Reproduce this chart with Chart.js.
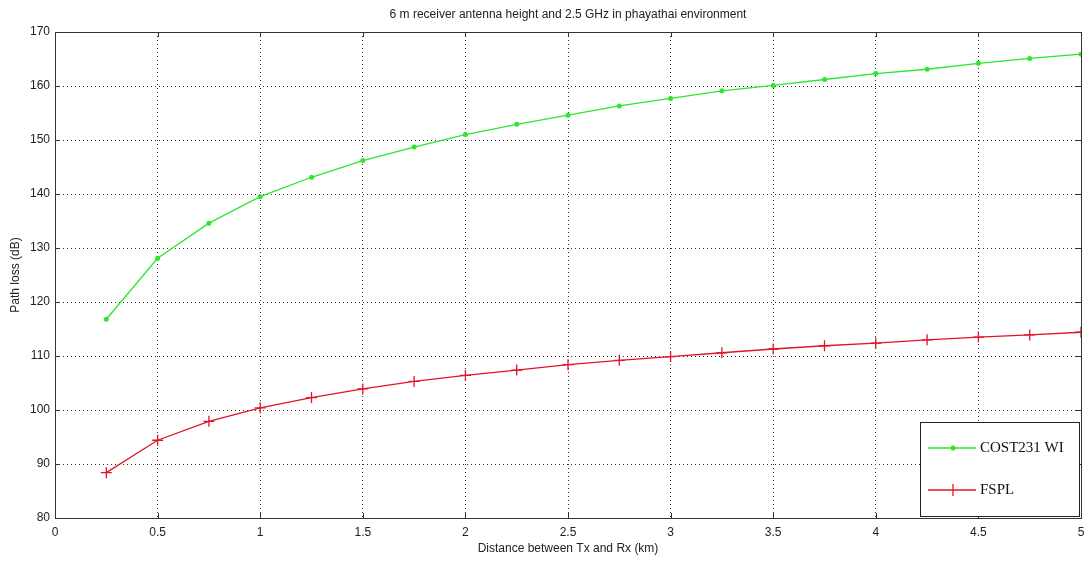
<!DOCTYPE html>
<html>
<head>
<meta charset="utf-8">
<title>Path loss vs distance</title>
<script src="https://cdn.jsdelivr.net/npm/chart.js@4.4.1/dist/chart.umd.min.js"></script>
<style>
  html, body { margin: 0; padding: 0; background: #fff; }
  #wrap { width: 1089px; height: 563px; }
</style>
</head>
<body>
<div id="wrap"><canvas id="c" width="1089" height="563"></canvas></div>
<script>
// Distance between transmitter and receiver (km)
const distanceKm = [0.25, 0.5, 0.75, 1, 1.25, 1.5, 1.75, 2, 2.25, 2.5,
                    2.75, 3, 3.25, 3.5, 3.75, 4, 4.25, 4.5, 4.75, 5];

// COST231 Walfisch-Ikegami path loss (dB)
const cost231Wi = [116.8, 128.1, 134.6, 139.5, 143.1, 146.2, 148.7, 151.0, 152.9, 154.6,
                   156.3, 157.7, 159.1, 160.1, 161.2, 162.3, 163.1, 164.2, 165.1, 165.9];

// Free-space path loss (dB)
const fspl = [88.4, 94.4, 97.9, 100.4, 102.3, 103.9, 105.3, 106.4, 107.4, 108.4,
              109.2, 109.9, 110.6, 111.3, 111.9, 112.4, 113.0, 113.5, 113.9, 114.4];

const seriesNames = ['COST231 WI', 'FSPL'];
const chartTitle = '6 m receiver antenna height and 2.5 GHz in phayathai environment';
const xTitle = 'Distance between Tx and Rx (km)';
const yTitle = 'Path loss (dB)';

const GREEN = '#2ee62e';
const RED = '#e0142a';
const SANS = '"Liberation Sans", Arial, sans-serif';
const SERIF = '"Liberation Serif", "Times New Roman", serif';

const toPoints = (ys) => distanceKm.map((x, i) => ({ x, y: ys[i] }));

// Frame, inward tick marks, titles and the boxed legend
const framePlugin = {
  id: 'frame',
  afterDraw(chart) {
    const { ctx, chartArea: a, scales } = chart;
    ctx.save();
    ctx.strokeStyle = '#333';
    ctx.lineWidth = 1;
    ctx.setLineDash([]);
    ctx.strokeRect(Math.round(a.left) + 0.5, Math.round(a.top) + 0.5,
                   Math.round(a.right - a.left), Math.round(a.bottom - a.top));
    const tl = 5;
    ctx.beginPath();
    scales.x.ticks.forEach(t => {
      const px = Math.round(scales.x.getPixelForValue(t.value)) + 0.5;
      ctx.moveTo(px, a.bottom); ctx.lineTo(px, a.bottom - tl);
      ctx.moveTo(px, a.top); ctx.lineTo(px, a.top + tl);
    });
    scales.y.ticks.forEach(t => {
      const py = Math.round(scales.y.getPixelForValue(t.value)) + 0.5;
      ctx.moveTo(a.left, py); ctx.lineTo(a.left + tl, py);
      ctx.moveTo(a.right, py); ctx.lineTo(a.right - tl, py);
    });
    ctx.stroke();

    // titles
    ctx.fillStyle = '#222';
    ctx.font = '12px ' + SANS;
    ctx.textAlign = 'center';
    ctx.textBaseline = 'middle';
    const cx = (a.left + a.right) / 2;
    ctx.fillText(chartTitle, cx, 15);
    ctx.fillText(xTitle, cx, 549);
    ctx.save();
    ctx.translate(16, (a.top + a.bottom) / 2);
    ctx.rotate(-Math.PI / 2);
    ctx.fillText(yTitle, 0, 0);
    ctx.restore();

    // legend box
    const lx = 920.5, ly = 422.5, lw = 159, lh = 94;
    ctx.fillStyle = '#fff';
    ctx.fillRect(lx, ly, lw, lh);
    ctx.strokeStyle = '#222';
    ctx.strokeRect(lx, ly, lw, lh);
    const rows = [
      { name: seriesNames[0], color: GREEN, y: 448, mark: 'dot' },
      { name: seriesNames[1], color: RED, y: 490, mark: 'plus' }
    ];
    rows.forEach(r => {
      ctx.strokeStyle = r.color;
      ctx.lineWidth = 1.3;
      ctx.beginPath();
      ctx.moveTo(928, r.y); ctx.lineTo(976, r.y);
      ctx.stroke();
      if (r.mark === 'dot') {
        ctx.fillStyle = r.color;
        ctx.beginPath(); ctx.arc(953, r.y, 2.5, 0, Math.PI * 2); ctx.fill();
      } else {
        ctx.beginPath();
        ctx.moveTo(953, r.y - 6); ctx.lineTo(953, r.y + 6);
        ctx.stroke();
      }
      ctx.fillStyle = '#111';
      ctx.font = '15px ' + SERIF;
      ctx.textAlign = 'left';
      ctx.fillText(r.name, 980, r.y);
    });
    ctx.restore();
  }
};

new Chart(document.getElementById('c'), {
  type: 'line',
  data: {
    datasets: [
      {
        label: seriesNames[0],
        data: toPoints(cost231Wi),
        borderColor: GREEN,
        backgroundColor: GREEN,
        borderWidth: 1.3,
        pointStyle: 'circle',
        pointRadius: 2.5,
        pointBorderWidth: 0,
        tension: 0
      },
      {
        label: seriesNames[1],
        data: toPoints(fspl),
        borderColor: RED,
        backgroundColor: RED,
        borderWidth: 1.3,
        pointStyle: 'cross',
        pointRadius: 5.5,
        pointBorderWidth: 1.3,
        tension: 0
      }
    ]
  },
  options: {
    responsive: false,
    animation: false,
    events: [],
    layout: { padding: { left: 0, right: 8, top: 32, bottom: 0 } },
    plugins: {
      legend: { display: false },
      title: { display: false },
      tooltip: { enabled: false }
    },
    scales: {
      x: {
        type: 'linear',
        min: 0, max: 5,
        afterFit(s) { s.height = 45; s.paddingLeft = 0; s.paddingRight = 0; },
        ticks: {
          stepSize: 0.5, color: '#222', font: { family: SANS, size: 12 }, padding: 7, maxRotation: 0,
          callback: (v) => String(Math.round(v * 10) / 10)
        },
        grid: { color: '#333', lineWidth: 1, drawTicks: false },
        border: { display: false, dash: [1, 3] }
      },
      y: {
        min: 80, max: 170,
        afterFit(s) { s.width = 55; s.paddingTop = 0; s.paddingBottom = 0; },
        ticks: { stepSize: 10, color: '#222', font: { family: SANS, size: 12 }, padding: 5 },
        grid: { color: '#333', lineWidth: 1, drawTicks: false },
        border: { display: false, dash: [1, 3] }
      }
    }
  },
  plugins: [framePlugin]
});
</script>
</body>
</html>
